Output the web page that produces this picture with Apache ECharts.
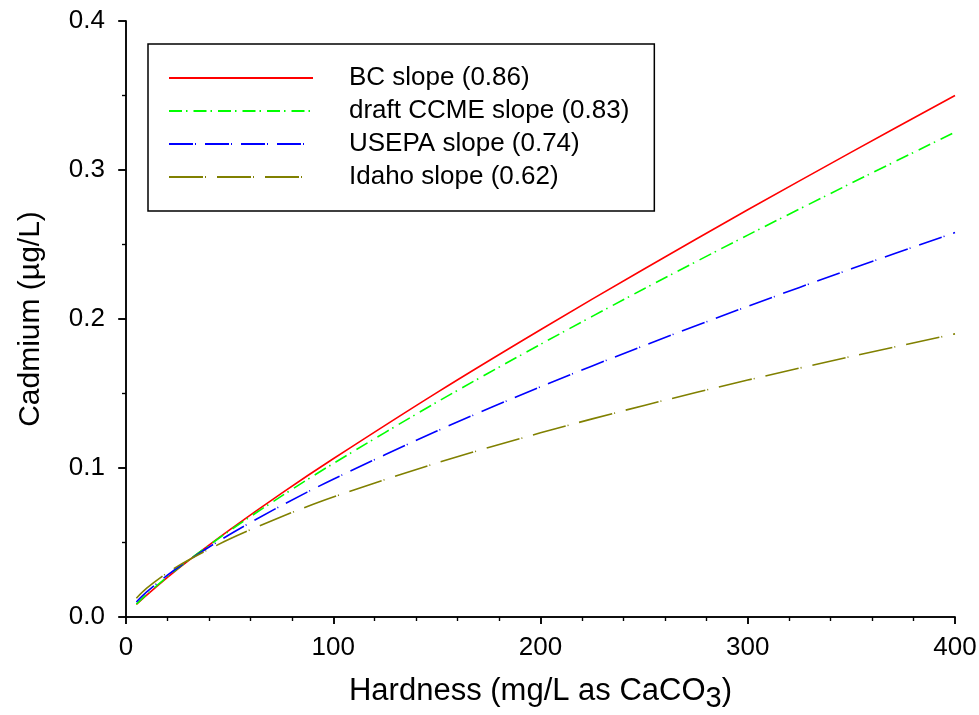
<!DOCTYPE html>
<html><head><meta charset="utf-8">
<script src="https://cdn.jsdelivr.net/npm/echarts@6/dist/echarts.min.js"></script>
<style>html,body{margin:0;padding:0;background:#fff}#c{width:979px;height:715px}</style>
</head><body><div id="c"></div>
<script>
const hardness = [5, 10, 20, 30, 50, 75, 100, 150, 200, 250, 300, 350, 400];
const bcSlope    = [0.0085, 0.0147, 0.0266, 0.0377, 0.0585, 0.0830, 0.1062, 0.1506, 0.1928, 0.2336, 0.2733, 0.3120, 0.3500];
const ccmeSlope  = [0.0086, 0.0152, 0.0271, 0.0379, 0.0579, 0.0811, 0.1030, 0.1442, 0.1830, 0.2203, 0.2563, 0.2912, 0.3254];
const usepaSlope = [0.0101, 0.0168, 0.0281, 0.0379, 0.0554, 0.0748, 0.0925, 0.1248, 0.1545, 0.1822, 0.2085, 0.2337, 0.2580];
const idahoSlope = [0.0126, 0.0193, 0.0297, 0.0381, 0.0523, 0.0673, 0.0805, 0.1034, 0.1236, 0.1420, 0.1590, 0.1749, 0.1900];
const seriesNames = ['BC slope (0.86)', 'draft CCME slope (0.83)', 'USEPA slope (0.74)', 'Idaho slope (0.62)'];
const xTicks = [0, 100, 200, 300, 400];
const yTicks = [0.0, 0.1, 0.2, 0.3, 0.4];

const FONT = 'Liberation Sans, Arial, sans-serif';
const zip = ys => hardness.map((h, i) => [h, ys[i]]);
const styles = [
  {color: '#ff0000', type: 'solid'},
  {color: '#00ff00', type: [13, 4, 1.5, 6]},
  {color: '#0000ff', type: [24, 2, 1, 9]},
  {color: '#808000', type: [34, 2, 1, 11]}
];
const allData = [bcSlope, ccmeSlope, usepaSlope, idahoSlope];

const chart = echarts.init(document.getElementById('c'), null, {renderer: 'canvas'});
const axisLine = {show: true, lineStyle: {color: '#000', width: 1.5}};
chart.setOption({
  animation: false,
  backgroundColor: '#fff',
  grid: {left: 126, right: 24, top: 21, bottom: 98, containLabel: false, outerBoundsMode: 'none'},
  legend: {
    orient: 'vertical', left: 148, top: 44,
    padding: [21, 25, 21, 20],
    borderColor: '#000', borderWidth: 1.5,
    itemWidth: 144, itemHeight: 26, itemGap: 7,
    itemStyle: {opacity: 0},
    data: seriesNames,
    textStyle: {fontFamily: FONT, fontSize: 26, color: '#000', lineHeight: 26, padding: [0, 0, 0, 31]}
  },
  xAxis: [{
    type: 'value', min: xTicks[0], max: xTicks[xTicks.length - 1], interval: 100,
    axisLine: axisLine,
    axisTick: {show: true, length: 7, lineStyle: {color: '#000', width: 1.5}},
    minorTick: {show: true, splitNumber: 5, length: 4, lineStyle: {color: '#000', width: 1.2}},
    splitLine: {show: false},
    axisLabel: {fontFamily: FONT, fontSize: 26, color: '#000', margin: 18},
    name: '{a|Hardness (mg/L as CaCO}{s|3}{a|)}',
    nameLocation: 'middle', nameGap: 57,
    nameTextStyle: {rich: {
      a: {fontFamily: FONT, fontSize: 31, color: '#000', lineHeight: 34},
      s: {fontFamily: FONT, fontSize: 29, color: '#000', lineHeight: 34, padding: [16, 0, 0, 0]}
    }}
  }, {
    type: 'value', position: 'top', min: 0, max: 400, interval: 100,
    axisLine: axisLine,
    axisTick: {show: true, inside: true, length: 7, lineStyle: {color: '#000', width: 1.5}},
    minorTick: {show: true, splitNumber: 5, length: 4, lineStyle: {color: '#000', width: 1.2}},
    axisLabel: {show: false}, splitLine: {show: false}
  }],
  yAxis: [{
    type: 'value', min: yTicks[0], max: yTicks[yTicks.length - 1], interval: 0.1,
    axisLine: axisLine,
    axisTick: {show: true, length: 7, lineStyle: {color: '#000', width: 1.5}},
    minorTick: {show: true, splitNumber: 2, length: 4, lineStyle: {color: '#000', width: 1.2}},
    splitLine: {show: false},
    axisLabel: {fontFamily: FONT, fontSize: 26, color: '#000', margin: 21, formatter: v => v.toFixed(1)},
    name: 'Cadmium (\u00b5g/L)',
    nameLocation: 'middle', nameGap: 80,
    nameTextStyle: {fontFamily: FONT, fontSize: 30, color: '#000'}
  }, {
    type: 'value', position: 'right', min: 0, max: 0.4, interval: 0.1,
    axisLine: axisLine,
    axisTick: {show: true, inside: true, length: 8, lineStyle: {color: '#000', width: 1.5}},
    minorTick: {show: true, splitNumber: 2, length: 4, lineStyle: {color: '#000', width: 1.2}},
    axisLabel: {show: false}, splitLine: {show: false}
  }],
  series: seriesNames.map((n, i) => ({
    name: n, type: 'line', xAxisIndex: 0, yAxisIndex: 0,
    data: zip(allData[i]), showSymbol: false, symbol: 'none',
    smooth: 0.3,
    color: styles[i].color,
    lineStyle: {color: styles[i].color, width: 1.6, type: styles[i].type}
  }))
});
</script></body></html>
